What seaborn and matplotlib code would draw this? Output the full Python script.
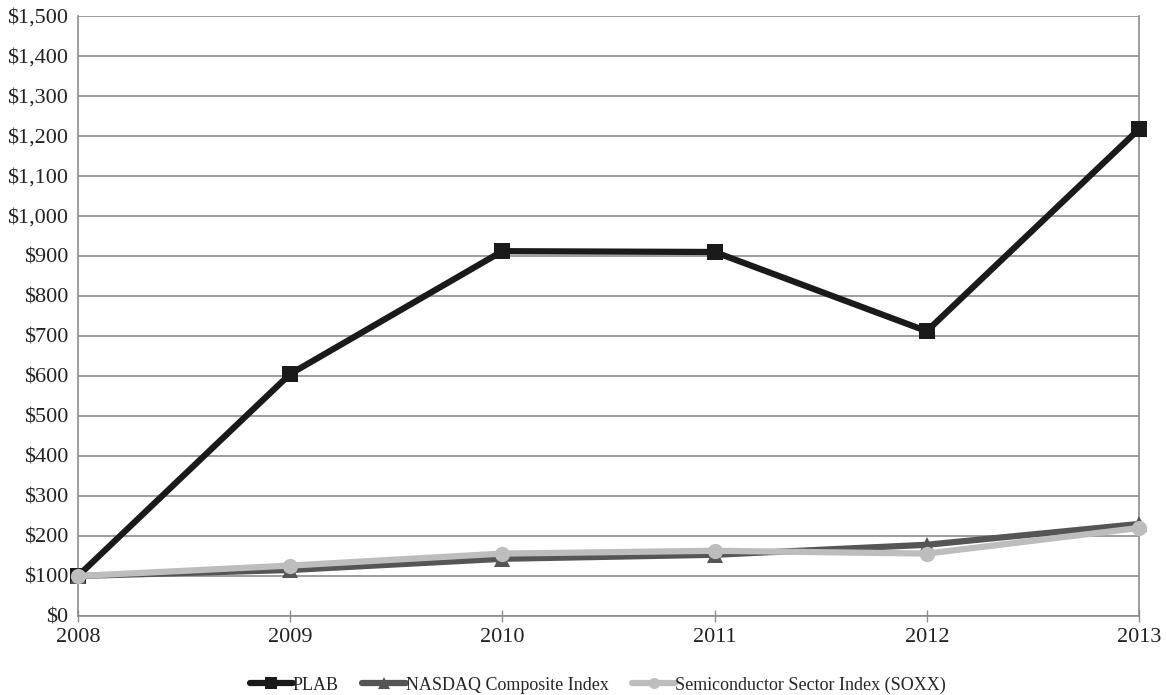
import matplotlib
matplotlib.use("Agg")
import matplotlib.pyplot as plt
import seaborn as sns
import pandas as pd
from matplotlib.ticker import FuncFormatter, MultipleLocator

years = [2008, 2009, 2010, 2011, 2012, 2013]
plab = [100, 605, 912, 910, 712, 1217]
nasdaq = [100, 115, 143, 153, 178, 230]
soxx = [100, 126, 156, 163, 156, 220]
series_names = ["PLAB", "NASDAQ Composite Index", "Semiconductor Sector Index (SOXX)"]

df = pd.DataFrame({
    "year": years * 3,
    "value": plab + nasdaq + soxx,
    "series": [series_names[0]] * 6 + [series_names[1]] * 6 + [series_names[2]] * 6,
})

sns.set_theme(style="white")
plt.rcParams["font.family"] = ["Liberation Serif", "DejaVu Serif"]

fig = plt.figure(figsize=(11.66, 6.95), dpi=100)
ax = fig.add_axes([0.0669, 0.1137, 0.9099, 0.8633])

palette = {series_names[0]: "#1a1a1a", series_names[1]: "#555555", series_names[2]: "#bdbdbd"}
markers = {series_names[0]: "s", series_names[1]: "^", series_names[2]: "o"}
sns.lineplot(data=df, x="year", y="value", hue="series", style="series",
             palette=palette, markers=markers, dashes=False, linewidth=4.5,
             markersize=11, markeredgewidth=0, ax=ax, legend=True, zorder=3)
for line in ax.lines:
    line.set_clip_on(False)

ax.set_xlim(2008, 2013)
ax.set_ylim(0, 1500)
ax.yaxis.set_major_locator(MultipleLocator(100))
ax.yaxis.set_major_formatter(FuncFormatter(lambda v, p: f"${int(v):,}"))
ax.set_xticks(years)
ax.set_xticklabels([str(y) for y in years])
ax.grid(axis="y", color="#8c8c8c", linewidth=1.2)
ax.set_axisbelow(True)
ax.set_xlabel("")
ax.set_ylabel("")
for side in ["left", "bottom", "right"]:
    ax.spines[side].set_color("#8c8c8c")
    ax.spines[side].set_linewidth(1.2)
ax.spines["top"].set_visible(False)
ax.tick_params(axis="x", direction="inout", length=8, width=1, color="#8c8c8c",
               labelsize=16, pad=5, bottom=True)
ax.tick_params(axis="y", length=0, labelsize=16, pad=7)
for lbl in ax.get_xticklabels() + ax.get_yticklabels():
    lbl.set_color("#222222")

handles, labels = ax.get_legend_handles_labels()
for h in handles:
    h.set_markersize(8)
ax.legend(handles, labels, loc="center", bbox_to_anchor=(0.49, -0.115),
          ncol=3, frameon=False, handlelength=2.4,
          handletextpad=0.0, columnspacing=1.3, prop={"family": "Liberation Serif", "size": 13})

fig.savefig("out.png", dpi=100, facecolor="white")
